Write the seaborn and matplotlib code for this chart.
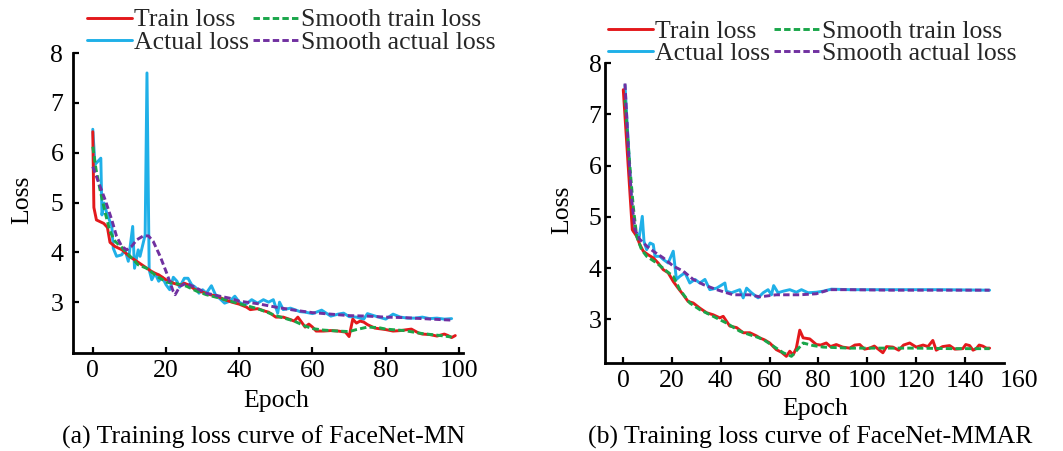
import matplotlib
matplotlib.use("Agg")
import matplotlib.pyplot as plt
from matplotlib.lines import Line2D
import seaborn as sns
import pandas as pd

# ---------------- Data: panel (a) FaceNet-MN ----------------
a_train_x = [0, 0.3, 1, 3, 4, 4.7, 6, 8, 10, 12, 14, 16, 17, 18, 20, 21, 22, 24, 25, 26, 28, 30,
             32, 34, 36, 38, 40, 42, 43, 45, 47, 48, 50, 52, 54, 55, 56, 57, 58, 59, 60, 61, 63,
             65, 67, 69, 70, 71, 72, 73, 74, 75, 77, 79, 80, 82, 84, 86, 87, 89, 90, 92, 94, 96,
             97, 98, 99]
a_train_y = [6.42, 4.9, 4.65, 4.58, 4.5, 4.2, 4.12, 4.05, 3.92, 3.82, 3.72, 3.62, 3.58, 3.55, 3.45,
             3.42, 3.38, 3.34, 3.38, 3.35, 3.25, 3.2, 3.15, 3.12, 3.05, 3.0, 2.96, 2.9, 2.85, 2.87,
             2.82, 2.8, 2.7, 2.7, 2.65, 2.62, 2.7, 2.6, 2.5, 2.56, 2.5, 2.42, 2.42, 2.43, 2.42, 2.4,
             2.31, 2.66, 2.58, 2.62, 2.6, 2.55, 2.48, 2.46, 2.45, 2.42, 2.43, 2.45, 2.46, 2.38, 2.36,
             2.35, 2.32, 2.36, 2.33, 2.29, 2.33]

a_actual_x = [0, 0.6, 2.2, 2.5, 3.1, 3.8, 5.2, 5.6, 6.5, 7.9, 8.8, 9.7, 10.9, 11.4, 12.4, 12.9,
              14.3, 14.8, 15.4, 16.1, 17, 18, 19, 20, 21, 22, 23, 23.7, 25, 26, 27, 28, 29, 30,
              31, 32.4, 33.5, 35, 36, 37.4, 38.8, 40, 41.5, 43.4, 45, 46.6, 48, 49.3, 50.5, 51,
              52, 54, 56.6, 58, 60, 62.5, 65, 67, 68.5, 70, 72, 74, 75, 77.6, 80, 82, 84, 86, 88,
              90, 92, 94, 96, 98]
a_actual_y = [6.47, 5.76, 5.89, 4.75, 4.99, 4.79, 4.52, 4.08, 3.92, 3.95, 4.05, 3.82, 4.52, 3.68,
              4.05, 3.92, 4.35, 7.6, 3.65, 3.45, 3.58, 3.42, 3.5, 3.35, 3.25, 3.5, 3.42, 3.3, 3.48,
              3.48, 3.35, 3.3, 3.18, 3.25, 3.18, 3.33, 3.15, 3.05, 2.98, 3.02, 3.12, 3.0, 2.94,
              3.05, 2.98, 3.05, 3.0, 3.05, 2.78, 3.0, 2.85, 2.88, 2.81, 2.8, 2.77, 2.84, 2.72, 2.76,
              2.78, 2.71, 2.7, 2.66, 2.77, 2.71, 2.66, 2.76, 2.7, 2.68, 2.68, 2.7, 2.67, 2.68,
              2.66, 2.67]

a_strain_x = [0, 0.9, 2, 3.4, 4.7, 6.1, 7.9, 10.2, 12.4, 14.7, 17.5, 20.2, 22.9, 25.6, 28.4, 31,
              34.7, 40, 45, 50, 55, 58, 60, 63, 67, 70, 72, 75, 78, 80, 85, 90, 95, 98]
a_strain_y = [6.12, 5.66, 5.25, 4.79, 4.42, 4.22, 4.1, 3.92, 3.75, 3.68, 3.52, 3.4, 3.37, 3.32,
              3.22, 3.15, 3.08, 2.97, 2.87, 2.73, 2.62, 2.52, 2.47, 2.44, 2.42, 2.41, 2.45, 2.5,
              2.49, 2.46, 2.43, 2.37, 2.33, 2.3]

a_sactual_x = [0, 1.5, 3.4, 5.2, 6.5, 7.9, 9.3, 10.6, 12, 13.8, 15.2, 16.5, 18.4, 20.2, 22, 22.5,
               23.8, 25.6, 28.4, 31, 34.7, 37.4, 40, 45, 50, 55, 60, 65, 70, 75, 80, 85, 90, 95, 98]
a_sactual_y = [5.72, 5.42, 5.05, 4.65, 4.32, 4.12, 4.05, 4.12, 4.25, 4.33, 4.33, 4.22, 3.92, 3.58,
               3.21, 3.15, 3.32, 3.38, 3.28, 3.18, 3.12, 3.08, 3.02, 2.97, 2.9, 2.84, 2.79, 2.76,
               2.73, 2.72, 2.7, 2.69, 2.67, 2.65, 2.64]

# ---------------- Data: panel (b) FaceNet-MMAR ----------------
b_train_x = [0, 3.7, 5.5, 6.8, 8.2, 10.2, 12.3, 14.3, 16.4, 18.4, 20.5, 22.5, 24.6, 26.6, 28.7,
             31.4, 34.2, 36.9, 39.6, 41, 43.7, 46.5, 49.2, 51.9, 54.6, 56, 58, 60.1, 62.8, 64.9,
             66.9, 68.3, 69.7, 71, 72.4, 73.8, 76.5, 79.2, 81, 83.3, 85, 87.4, 90, 92.9, 95, 97,
             99, 101.1, 103, 106.5, 108, 110.6, 113, 115, 117.5, 120.2, 123, 125, 127, 128.4, 131,
             133.9, 136, 139.3, 140.5, 142.1, 143.5, 144.8, 146, 147.5, 149, 150.3]
b_train_y = [7.48, 4.75, 4.62, 4.46, 4.33, 4.26, 4.2, 4.1, 3.97, 3.91, 3.74, 3.61, 3.48, 3.35,
             3.32, 3.22, 3.13, 3.09, 3.03, 3.06, 2.87, 2.84, 2.74, 2.74, 2.68, 2.64, 2.6, 2.54, 2.41,
             2.36, 2.28, 2.38, 2.31, 2.44, 2.79, 2.64, 2.62, 2.51, 2.5, 2.54, 2.47, 2.51, 2.46, 2.44,
             2.5, 2.51, 2.42, 2.44, 2.48, 2.35, 2.47, 2.46, 2.4, 2.5, 2.54, 2.46, 2.5, 2.47, 2.59,
             2.4, 2.47, 2.49, 2.42, 2.43, 2.51, 2.49, 2.4, 2.43, 2.5, 2.48, 2.44, 2.44]

b_actual_x = [0.7, 4.1, 5.5, 6.6, 7.8, 8.5, 9.6, 11, 12.3, 13, 15, 16.4, 18.4, 20.5, 21.8, 23.2,
              25.3, 27.3, 29.4, 31.4, 33.5, 35.5, 38.3, 41.7, 42.3, 44.4, 47.8, 49.2, 50.6, 52.6,
              55.3, 57.4, 59.4, 60.8, 61.7, 63.5, 65.6, 68.3, 71, 73.1, 75.8, 79.2, 82, 85.4, 92.9,
              110, 130, 150.3]
b_actual_y = [7.57, 4.72, 4.68, 4.62, 5.01, 4.52, 4.36, 4.49, 4.46, 4.23, 4.23, 4.17, 4.1, 4.33,
              3.78, 3.84, 3.91, 3.71, 3.78, 3.71, 3.78, 3.58, 3.61, 3.71, 3.55, 3.52, 3.58, 3.42,
              3.61, 3.52, 3.42, 3.52, 3.58, 3.48, 3.66, 3.52, 3.55, 3.58, 3.53, 3.58, 3.52, 3.53,
              3.55, 3.59, 3.58, 3.58, 3.58, 3.57]

b_strain_x = [0.7, 2.7, 4.1, 5.5, 7.5, 9.6, 13.7, 17.8, 20.5, 23.2, 27.3, 31.4, 36.9, 42.3, 47.8,
              51.9, 54.6, 57.4, 61.5, 65.6, 69, 70.3, 73.8, 77.9, 82, 92.9, 105, 120, 135, 150.3]
b_strain_y = [7.28, 5.98, 5.2, 4.62, 4.36, 4.23, 4.1, 3.94, 3.84, 3.58, 3.32, 3.19, 3.06, 2.93,
              2.77, 2.7, 2.66, 2.61, 2.48, 2.35, 2.28, 2.35, 2.54, 2.49, 2.46, 2.44, 2.44, 2.44,
              2.43, 2.43]

b_sactual_x = [0.7, 2.1, 3.4, 4.8, 6.8, 9.6, 12.3, 16.4, 20.5, 24.6, 28.7, 32.8, 38.3, 45.1,
               51.9, 56, 62.8, 72.4, 79.2, 84.7, 92, 110, 130, 150.3]
b_sactual_y = [7.6, 6.31, 5.34, 4.75, 4.56, 4.43, 4.33, 4.2, 4.04, 3.94, 3.78, 3.68, 3.58, 3.48,
               3.48, 3.44, 3.48, 3.48, 3.5, 3.58, 3.58, 3.57, 3.57, 3.57]

labels = ["Train loss", "Actual loss", "Smooth train loss", "Smooth actual loss"]
captions = ["(a) Training loss curve of FaceNet-MN", "(b) Training loss curve of FaceNet-MMAR"]
x_ticks_a = [0, 20, 40, 60, 80, 100]
x_ticks_b = [0, 20, 40, 60, 80, 100, 120, 140]
y_ticks = [3, 4, 5, 6, 7, 8]

# ---------------- Style ----------------
sns.set_theme(style="white")
plt.rcParams["font.family"] = ["Liberation Serif", "DejaVu Serif"]
FS = 18.5

C_RED = "#e3191c"
C_BLUE = "#1fb0e8"
C_GREEN = "#1aa64a"
C_PURPLE = "#7030a0"
LW = 2.1
DASH = (0, (2.2, 1.1))

fig = plt.figure(figsize=(10.63, 4.51), dpi=100)
W, H = 1063, 451


def add_ax(x0, y0, x1, y1):
    return fig.add_axes([x0 / W, 1 - y1 / H, (x1 - x0) / W, (y1 - y0) / H])


ax_a = add_ax(73, 53, 463, 353)
ax_b = add_ax(605, 63, 1004, 363)

panels = [
    (ax_a, (a_train_x, a_train_y), (a_actual_x, a_actual_y), (a_strain_x, a_strain_y),
     (a_sactual_x, a_sactual_y)),
    (ax_b, (b_train_x, b_train_y), (b_actual_x, b_actual_y), (b_strain_x, b_strain_y),
     (b_sactual_x, b_sactual_y)),
]

for ax, tr, ac, st, sa in panels:
    sns.lineplot(x=tr[0], y=tr[1], ax=ax, color=C_RED, linewidth=LW, zorder=3)
    sns.lineplot(x=ac[0], y=ac[1], ax=ax, color=C_BLUE, linewidth=LW, zorder=2)
    sns.lineplot(x=st[0], y=st[1], ax=ax, color=C_GREEN, linewidth=LW, linestyle=DASH, zorder=4)
    sns.lineplot(x=sa[0], y=sa[1], ax=ax, color=C_PURPLE, linewidth=LW, linestyle=DASH, zorder=5)
    for s in ["top", "right"]:
        ax.spines[s].set_visible(False)
    for s in ["left", "bottom"]:
        ax.spines[s].set_visible(True)
        ax.spines[s].set_color("black")
        ax.spines[s].set_linewidth(2.0)
    ax.tick_params(axis="both", direction="in", length=4.5, width=1.6, labelsize=FS,
                   colors="black", bottom=True, left=True, top=False, right=False)
    ax.tick_params(axis="x", pad=5)
    ax.set_yticks(y_ticks)
    ax.set_facecolor("white")
    ax.set_xlabel("Epoch", fontsize=FS, color="black")
    ax.set_ylabel("Loss", fontsize=FS, color="black")

ax_a.tick_params(axis="y", pad=7)
ax_b.tick_params(axis="y", pad=2.5)

ax_a.set_xlim(-5.4, 101.1)
ax_a.set_ylim(1.98, 8.0)
ax_a.set_xticks(x_ticks_a)
ax_b.set_xlim(-7.5, 156.2)
ax_b.set_ylim(2.15, 8.0)
ax_b.set_xticks(x_ticks_b)
# "160" label sits just past the end of the axis in the original
ax_b.text(162.5, -0.024, "160", transform=ax_b.get_xaxis_transform(), ha="center", va="top",
          fontsize=FS, color="black", clip_on=False)

ax_a.yaxis.set_label_coords(-0.103, 0.51)
ax_b.yaxis.set_label_coords(-0.08, 0.51)
ax_a.xaxis.set_label_coords(0.52, -0.123)
ax_b.xaxis.set_label_coords(0.526, -0.117)


def legend_handles():
    return [
        Line2D([], [], color=C_RED, linewidth=LW),
        Line2D([], [], color=C_BLUE, linewidth=LW),
        Line2D([], [], color=C_GREEN, linewidth=LW, linestyle=DASH),
        Line2D([], [], color=C_PURPLE, linewidth=LW, linestyle=DASH),
    ]


for ax, cx, cy in [(ax_a, 291, 31.5), (ax_b, 812, 42.5)]:
    ax.legend(legend_handles(), labels, ncol=2, loc="center",
              bbox_to_anchor=(cx / W, 1 - cy / H), bbox_transform=fig.transFigure,
              frameon=False, fontsize=FS, handlelength=1.75, handletextpad=0.1,
              columnspacing=0.15, labelspacing=0.0, borderpad=0, borderaxespad=0)

fig.text(264 / W, 1 - 437 / H, captions[0], ha="center", va="center", fontsize=FS, color="black")
fig.text(810 / W, 1 - 437 / H, captions[1], ha="center", va="center", fontsize=FS, color="black")

fig.savefig("out.png", dpi=100, facecolor="white")
